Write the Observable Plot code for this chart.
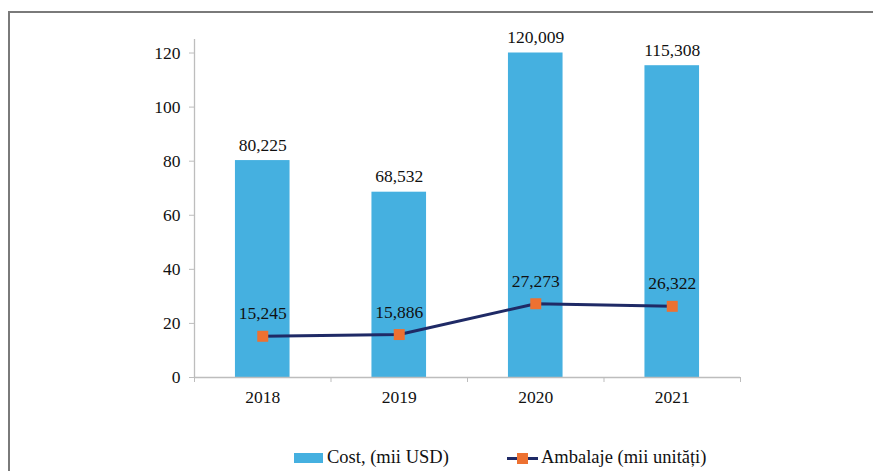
<!DOCTYPE html>
<html>
<head>
<meta charset="utf-8">
<script src="https://cdn.jsdelivr.net/npm/d3@7"></script>
<script src="https://cdn.jsdelivr.net/npm/@observablehq/plot@0.6"></script>
<style>
  html, body { margin: 0; padding: 0; background: #fff; }
  body { width: 873px; height: 471px; overflow: hidden; position: relative; font-family: "Liberation Serif", "DejaVu Serif", serif; }
  #frame { position: absolute; left: 8px; top: 11px; width: 900px; height: 500px; border: 2px solid #7a7a7a; box-sizing: border-box; pointer-events: none; }
  #chart { position: absolute; left: 0; top: 0; }
  #legend { position: absolute; left: 0; top: 440px; width: 873px; height: 31px; font-size: 18.5px; color: #111; font-family: "Liberation Serif", "DejaVu Serif", serif; }
  .sw { position: absolute; }
  .lt { position: absolute; top: 7px; line-height: 20px; white-space: nowrap; }
  #chart svg, #chart svg text { font-family: "Liberation Serif", "DejaVu Serif", serif !important; }
</style>
</head>
<body>
<div id="frame"></div>
<div id="chart"></div>
<div id="legend">
  <div class="sw" style="left:294px; top:13px; width:29px; height:10px; background:#45B0E0;"></div>
  <div class="lt" style="left:327px;">Cost, (mii USD)</div>
  <div class="sw" style="left:507px; top:16.5px; width:31px; height:3px; background:#1F2A66;"></div>
  <div class="sw" style="left:517px; top:12.5px; width:11px; height:11px; background:#ED7131;"></div>
  <div class="lt" style="left:541px;">Ambalaje (mii unități)</div>
</div>
<script>
const years = ["2018", "2019", "2020", "2021"];
const cost = [80.225, 68.532, 120.009, 115.308];
const ambalaje = [15.245, 15.886, 27.273, 26.322];
const costLabels = ["80,225", "68,532", "120,009", "115,308"];
const ambLabels = ["15,245", "15,886", "27,273", "26,322"];
const yTicks = [0, 20, 40, 60, 80, 100, 120];

const data = years.map((y, i) => ({i, year: y, cost: cost[i], amb: ambalaje[i], cl: costLabels[i], al: ambLabels[i]}));
const boundaries = d3.range(0, years.length + 1);
const centers = years.map((_, i) => i + 0.5);

const axisColor = "#bdbdbd";
const textColor = "#111";

const chart = Plot.plot({
  width: 873,
  height: 440,
  marginLeft: 194,
  marginRight: 133,
  marginTop: 39,
  marginBottom: 63,
  style: {fontFamily: "'Liberation Serif', 'DejaVu Serif', serif", fontSize: "17.5px", color: textColor, background: "transparent"},
  x: {domain: [0, years.length], axis: null},
  y: {domain: [0, 125], axis: null},
  marks: [
    Plot.rectY(data, {x1: d => d.i + 0.3, x2: d => d.i + 0.7, y: "cost", fill: "#45B0E0"}),
    Plot.ruleX([0], {y1: 0, y2: 125, stroke: axisColor, strokeWidth: 1.3}),
    Plot.ruleY([0], {x1: 0, x2: years.length, stroke: axisColor, strokeWidth: 1.3}),
    Plot.axisY({ticks: yTicks, tickSize: 5, tickPadding: 9, stroke: axisColor, fill: textColor, tickFormat: d => String(d), fontSize: 17.5}),
    Plot.axisX({ticks: boundaries, tickSize: 5, tickFormat: () => "", stroke: axisColor}),
    Plot.axisX({ticks: centers, tickSize: 0, tickPadding: 13, tickFormat: d => years[Math.round(d - 0.5)], fill: textColor, fontSize: 17.5}),
    Plot.text(data, {x: d => d.i + 0.5, y: "cost", text: "cl", lineAnchor: "bottom", dy: -10, fill: textColor, fontSize: 17.5}),
    Plot.line(data, {x: d => d.i + 0.5, y: "amb", stroke: "#1F2A66", strokeWidth: 3}),
    Plot.dot(data, {x: d => d.i + 0.5, y: "amb", symbol: "square", r: 6.2, fill: "#ED7131", stroke: "none"}),
    Plot.text(data, {x: d => d.i + 0.5, y: "amb", text: "al", lineAnchor: "bottom", dy: -17, fill: textColor, fontSize: 17.5})
  ]
});
document.getElementById("chart").appendChild(chart);
</script>
</body>
</html>
